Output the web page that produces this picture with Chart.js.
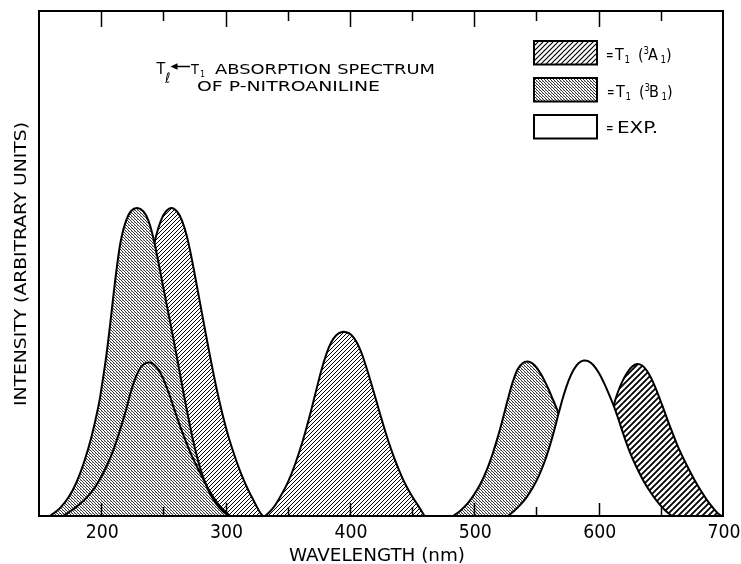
<!DOCTYPE html>
<html>
<head>
<meta charset="utf-8">
<title>Tl &lt;- T1 absorption spectrum of p-nitroaniline</title>
<script src="https://cdn.jsdelivr.net/npm/chart.js@4.4.1/dist/chart.umd.min.js"></script>
<style>
  html, body { margin: 0; padding: 0; background: #fff; }
  #wrap { width: 741px; height: 564px; }
</style>
</head>
<body>
<div id="wrap"><canvas id="spectrumChart" width="741" height="564"></canvas></div>
<script>
// wavelength axis (nm)
const xMin = 150;
const xMax = 700;
const tickLabels = [200, 300, 400, 500, 600, 700];
const minorTicks = [250, 350, 450, 550, 650];

// T1 (3B1) bands, stippled
const b1UvX = [159, 167, 174, 180, 186, 192, 198, 201, 204, 207, 210, 213, 216, 220, 224, 229, 234, 238, 242, 246, 250, 255, 260, 265, 270, 275, 280, 286, 292, 298, 303];
const b1UvY = [0, 1.6, 3.8, 6.6, 10.5, 15.5, 22, 26.5, 31.5, 37.5, 44, 50, 54.8, 58.5, 60.4, 61, 60.3, 58.5, 55, 50.3, 45.2, 39, 32.6, 26, 19.6, 13.8, 9.2, 5.2, 2.6, 0.9, 0];
const b1VisX = [483, 489, 495, 500, 505, 510, 515, 519, 523, 527, 531, 535, 539, 543, 547, 551, 555, 559, 563, 567, 572, 578, 585, 592, 600, 608];
const b1VisY = [0, 1.1, 2.6, 4.3, 6.4, 9.1, 12.5, 15.7, 19.3, 23.1, 26.6, 29.1, 30.3, 30.6, 30.2, 29.1, 27.5, 25.5, 23.2, 20.8, 17.4, 13.2, 8.6, 4.8, 1.8, 0];

// T1 (3A1) bands, hatched
const a1UvX = [185, 195, 205, 213, 220, 226, 232, 236, 240, 244, 248, 252, 256.5, 261, 265, 269, 273, 277, 281, 285, 289, 293, 297, 301, 305, 309, 313, 317, 321, 325, 328, 330];
const a1UvY = [0, 2, 6, 13, 22, 31, 40, 45.5, 50.7, 55.3, 58.5, 60.3, 61, 60.3, 58.5, 55.3, 50.7, 45.5, 40.2, 34.9, 29.8, 25, 20.7, 16.9, 13.6, 10.7, 8.1, 5.8, 3.8, 1.9, 0.6, 0];
const a1MidX = [332, 338, 344, 350, 356, 362, 367, 372, 377, 381, 385, 389, 393, 397, 401, 405, 409, 413, 417, 421, 425, 429, 433, 437, 441, 445, 450, 455, 460];
const a1MidY = [0, 1.5, 3.8, 6.6, 10.3, 14.8, 19.2, 24, 28.8, 32, 34.4, 35.8, 36.4, 36.4, 35.9, 34.6, 32.5, 29.6, 26.4, 23, 19.6, 16.3, 13.3, 10.6, 8.2, 6.1, 3.9, 2, 0];
const a1VisX = [565, 575, 585, 593, 600, 606, 611, 615, 619, 623, 627, 631, 635, 639, 643, 647, 651, 655, 659, 663, 667, 672, 677, 682, 687, 692, 696, 699];
const a1VisY = [0, 1.2, 3.8, 7.5, 12, 16.8, 21, 24.2, 26.6, 28.4, 29.6, 30.1, 29.8, 28.7, 26.9, 24.6, 22, 19.3, 16.7, 14.2, 12, 9.5, 7.2, 5.1, 3.2, 1.6, 0.5, 0];

// experimental bands, open
const expUvX = [169, 175, 181, 187, 193, 199, 205, 210, 215, 220, 224, 228, 232, 236, 239, 242, 246, 250, 254, 258, 262, 266, 270, 274, 278, 283, 288, 294, 300, 304];
const expUvY = [0, 0.9, 2, 3.3, 5, 7.3, 10.2, 13.2, 16.9, 21, 24.7, 27.6, 29.5, 30.3, 30.4, 30.1, 29, 27.1, 24.6, 21.7, 18.8, 16.1, 13.6, 11.3, 9.3, 6.8, 4.6, 2.4, 0.8, 0];
const expVisX = [527, 532, 537, 542, 547, 552, 556, 560, 564, 568, 572, 576, 580, 584, 588, 592, 596, 600, 604, 608, 612, 616, 620, 625, 630, 636, 642, 648, 654, 659];
const expVisY = [0, 1, 2.2, 3.7, 5.6, 8, 10.4, 13.3, 16.7, 20.5, 24, 26.9, 29, 30.3, 30.8, 30.6, 29.8, 28.4, 26.5, 24.3, 21.9, 19.1, 16.1, 12.7, 9.9, 7, 4.6, 2.6, 1, 0];

const titleLine1 = "ABSORPTION SPECTRUM";
const titleLine2 = "OF P-NITROANILINE";
const xTitle = "WAVELENGTH (nm)";
const yTitle = "INTENSITY (ARBITRARY UNITS)";

const LABEL_FONT = "'DejaVu Sans Condensed', 'DejaVu Sans', sans-serif";

function toPoints(xs, ys) {
  return xs.map((x, i) => ({ x, y: ys[i] }));
}

function makeHatch(step, width) {
  const c = document.createElement("canvas");
  c.width = step;
  c.height = step;
  const g = c.getContext("2d");
  g.fillStyle = "#fff";
  g.fillRect(0, 0, step, step);
  g.strokeStyle = "#000";
  g.lineWidth = width;
  g.beginPath();
  for (const k of [0, step, 2 * step]) {
    g.moveTo(k - step - 1, step + 1);
    g.lineTo(k + 1, -1);
  }
  g.stroke();
  return g.createPattern(c, "repeat");
}

// fine dot screen, mid grey
function makeStipple() {
  const c = document.createElement("canvas");
  c.width = 3;
  c.height = 3;
  const g = c.getContext("2d");
  g.fillStyle = "#fff";
  g.fillRect(0, 0, 3, 3);
  g.fillStyle = "#3a3a3a";
  g.fillRect(0, 0, 1, 1);
  g.fillRect(1, 1, 1, 1);
  g.fillRect(2, 2, 1, 1);
  g.fillStyle = "#a8a8a8";
  g.fillRect(2, 0, 1, 1);
  return g.createPattern(c, "repeat");
}

// cap = wanted cap height in px, width = optional target width (text is squeezed/stretched to it)
function drawText(ctx, str, x, y, cap, width, align = "left") {
  const size = cap / 0.73;
  ctx.save();
  ctx.font = `${size.toFixed(1)}px ${LABEL_FONT}`;
  ctx.textBaseline = "alphabetic";
  ctx.textAlign = "left";
  const w = ctx.measureText(str).width;
  const sx = width ? width / w : 1;
  const shift = align === "center" ? -w * sx / 2 : align === "right" ? -w * sx : 0;
  ctx.translate(x + shift, y);
  ctx.scale(sx, 1);
  ctx.fillStyle = "#000";
  ctx.fillText(str, 0, 0);
  ctx.restore();
}

function drawStateLabel(ctx, x0, base, letter) {
  drawText(ctx, "=", x0 - 1, base - 0.5, 11.7, 7.5);
  drawText(ctx, "T", x0 + 8, base, 11.7);
  drawText(ctx, "1", x0 + 17.5, base + 3, 7);
  drawText(ctx, "(", x0 + 31, base, 11.7);
  drawText(ctx, "3", x0 + 36.5, base - 6, 7);
  drawText(ctx, letter, x0 + 41, base, 11.7);
  drawText(ctx, "1", x0 + 53.5, base + 3, 7);
  drawText(ctx, ")", x0 + 59, base, 11.7);
}

const hatchFine = makeHatch(4, 1);
const hatchCoarse = makeHatch(6, 1.8);
const hatchKey = makeHatch(5, 1.2);
const stipple = makeStipple();

const decorPlugin = {
  id: "decor",
  afterDraw(chart) {
    const { ctx, chartArea: a } = chart;
    const xs = chart.scales.x;
    ctx.save();

    // frame
    ctx.strokeStyle = "#000";
    ctx.lineWidth = 2;
    ctx.strokeRect(a.left, a.top, a.right - a.left, a.bottom - a.top);

    // inward ticks, top and bottom
    ctx.lineWidth = 1.5;
    ctx.beginPath();
    tickLabels.concat(minorTicks).forEach((v) => {
      if (v >= xMax) return;
      const px = Math.round(xs.getPixelForValue(v)) + 0.5;
      const major = tickLabels.includes(v);
      ctx.moveTo(px, a.bottom);
      ctx.lineTo(px, a.bottom - (major ? 13 : 9));
      ctx.moveTo(px, a.top);
      ctx.lineTo(px, a.top + (major ? 16 : 10));
    });
    ctx.stroke();

    // tick labels
    tickLabels.forEach((v) => {
      drawText(ctx, String(v), xs.getPixelForValue(v) + 1, 538, 14.4, 33, "center");
    });

    // axis titles
    drawText(ctx, xTitle, 289, 561, 13, 176);
    ctx.save();
    ctx.translate(26, 264);
    ctx.rotate(-Math.PI / 2);
    drawText(ctx, yTitle, 0, 0, 12, 284, "center");
    ctx.restore();

    // heading: T_l <- T_1 ...
    drawText(ctx, "T", 156.5, 73.5, 11.5);
    drawText(ctx, "\u2113", 165, 83, 10.5);
    ctx.lineWidth = 1.5;
    ctx.beginPath();
    ctx.moveTo(190, 66.5);
    ctx.lineTo(175, 66.5);
    ctx.stroke();
    ctx.beginPath();
    ctx.moveTo(170.5, 66.5);
    ctx.lineTo(177.5, 63.3);
    ctx.lineTo(177.5, 69.7);
    ctx.closePath();
    ctx.fill();
    drawText(ctx, "T", 191, 73.5, 10.5);
    drawText(ctx, "1", 200, 76.5, 6.5);
    drawText(ctx, titleLine1, 215, 73.5, 10, 220);
    drawText(ctx, titleLine2, 197, 90.5, 10, 183);

    // key
    const boxes = [
      { y: 41, fill: hatchKey },
      { y: 78, fill: stipple },
      { y: 115, fill: "#fff" }
    ];
    ctx.lineWidth = 2;
    boxes.forEach((b) => {
      ctx.fillStyle = b.fill;
      ctx.fillRect(534, b.y, 63, 23.5);
      ctx.strokeRect(534, b.y, 63, 23.5);
    });
    ctx.fillStyle = "#000";
    drawStateLabel(ctx, 607, 60, "A");
    drawStateLabel(ctx, 608, 97, "B");
    drawText(ctx, "=", 606, 132.8, 11.7, 7.5);
    drawText(ctx, "EXP.", 617, 133.3, 11.7, 41);

    ctx.restore();
  }
};

function band(xs, ys, fill) {
  return {
    data: toPoints(xs, ys),
    borderColor: "#000",
    borderWidth: 2,
    backgroundColor: fill || "rgba(0,0,0,0)",
    fill: fill ? "origin" : false,
    pointRadius: 0,
    tension: 0.4
  };
}

// first dataset is drawn on top
new Chart(document.getElementById("spectrumChart"), {
  type: "line",
  data: {
    datasets: [
      band(expVisX, expVisY, "#fff"),
      band(expUvX, expUvY, null),
      band(b1UvX, b1UvY, stipple),
      band(a1UvX, a1UvY, hatchFine),
      band(a1MidX, a1MidY, hatchFine),
      band(b1VisX, b1VisY, stipple),
      band(a1VisX, a1VisY, hatchCoarse)
    ]
  },
  options: {
    responsive: false,
    animation: false,
    devicePixelRatio: 1,
    layout: { padding: { left: 39, right: 18, top: 11, bottom: 48 } },
    scales: {
      x: { type: "linear", min: xMin, max: xMax, display: false },
      y: { min: 0, max: 100, display: false }
    },
    plugins: {
      legend: { display: false },
      tooltip: { enabled: false }
    }
  },
  plugins: [decorPlugin]
});
</script>
</body>
</html>
